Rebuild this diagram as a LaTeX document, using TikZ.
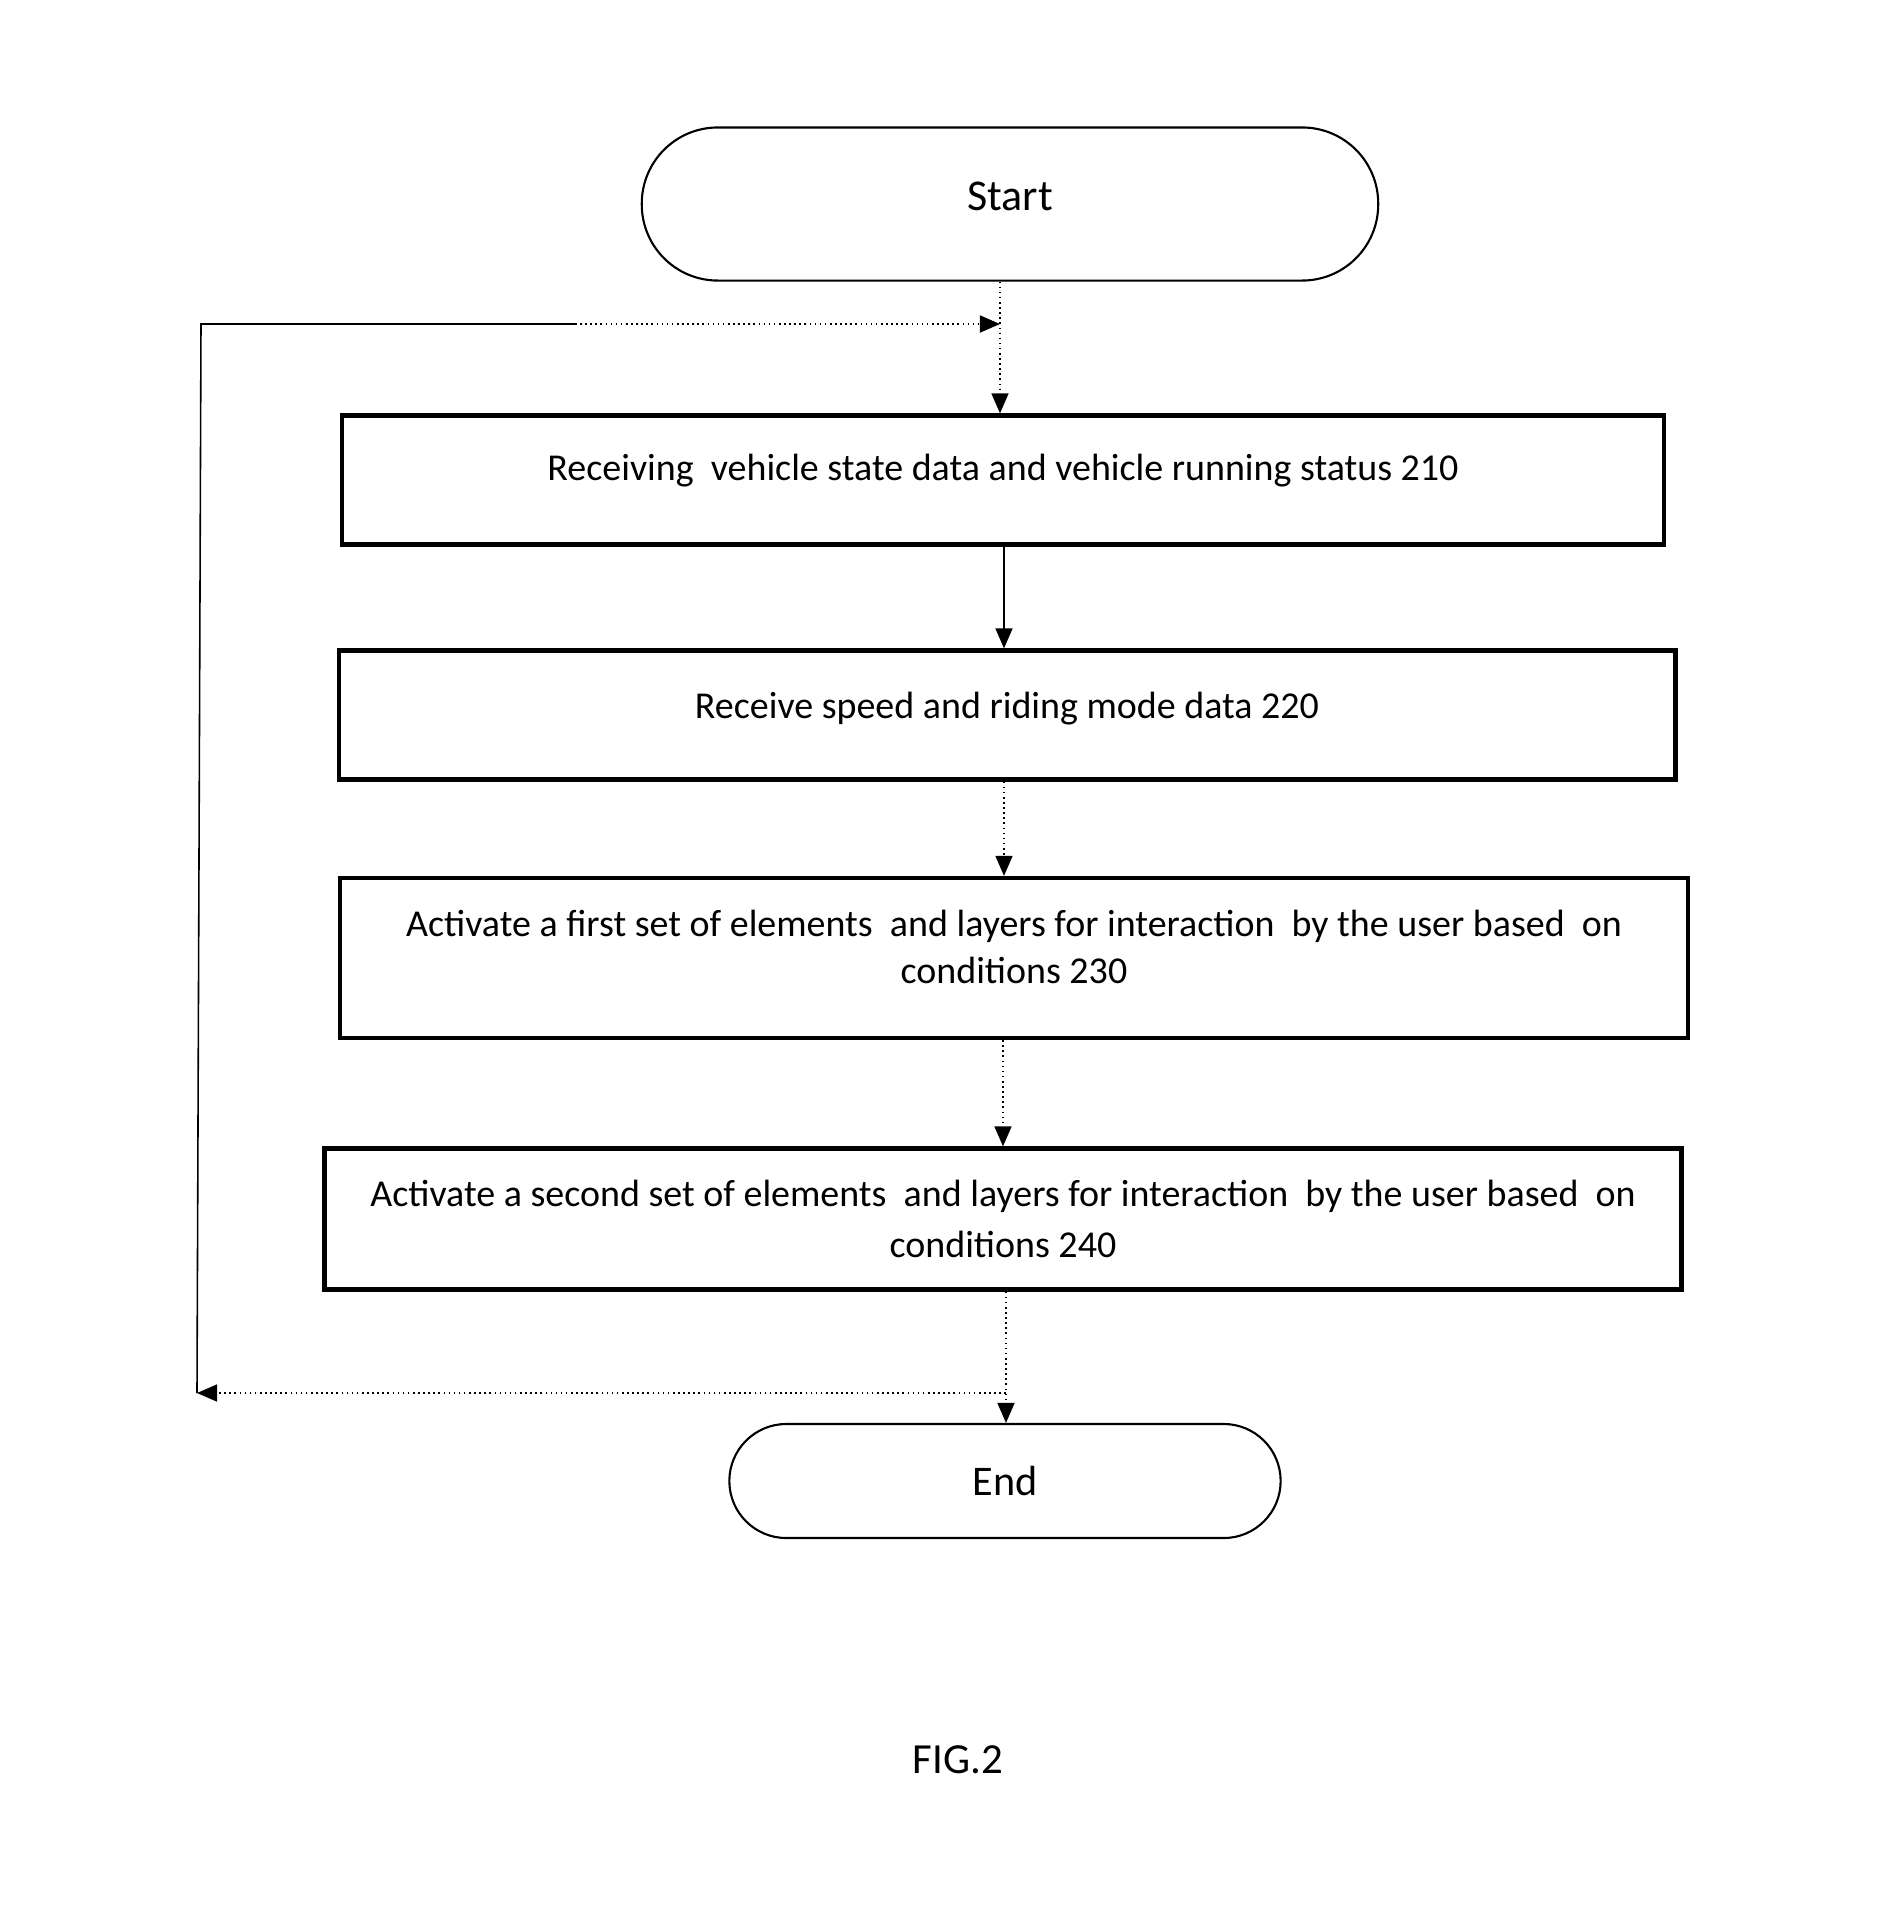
\documentclass[tikz,border=0pt]{standalone}
\usepackage{fontspec}
\setmainfont{Carlito}
\usetikzlibrary{arrows.meta}

\tikzset{
    stepbox/.style = {draw, line width = 1.2pt, align = center, font = \fontsize{10.8}{13.3}\selectfont},
    terminal/.style = {draw, line width = 0.6pt, font = \fontsize{12}{14}\selectfont},
    flow/.style = {line width = 0.45pt, -{Triangle[length = 0.2cm, width = 0.17cm]}},
    flowdot/.style = {flow, densely dotted},
}

\begin{document}
\begin{tikzpicture}[x = 0.01cm, y = -0.01cm]
                \useasboundingbox (0,0) rectangle (1897,1917);

                \node[terminal, rounded corners = 0.76cm, minimum width = 7.36cm, minimum height = 1.53cm, text depth = 0.15cm, font = \fontsize{12.5}{14}\selectfont] (start) at (1010,204) {Start};

                \node[stepbox, minimum width = 13.21cm, minimum height = 1.29cm, text depth = 0.25cm] (recv) at (1003,480) {Receiving\ \ vehicle state data and vehicle running status 210};
                \node[stepbox, minimum width = 13.36cm, minimum height = 1.29cm, text depth = 0.2cm] (speed) at (1007,715) {Receive speed and riding mode data 220};
                \node[stepbox, minimum width = 13.47cm, minimum height = 1.60cm, text depth = 0.23cm] (first) at (1014,958) {Activate a first set of elements\ \ and layers for interaction\ \ by the user based\ \ on\\ conditions 230};
                \node[stepbox, minimum width = 13.56cm, minimum height = 1.41cm, font = \fontsize{10.8}{14.5}\selectfont] (second) at (1003,1219) {Activate a second set of elements\ \ and layers for interaction\ \ by the user based\ \ on\\ conditions 240};

                \node[terminal, rounded corners = 0.57cm, minimum width = 5.51cm, minimum height = 1.14cm] (end) at (1005,1481) {End};

                \node[font = \fontsize{12.2}{14}\selectfont] (fig) at (958,1760) {FIG.2};

                % loop corners
                \coordinate (loopTL) at (201,324);
                \coordinate (loopMid) at (575,324);
                \coordinate (loopBL) at (197,1393);
                \coordinate (joinB) at (second.south |- loopBL);

                \draw[flowdot] (start.south -| 1000,0) -- (recv.north -| 1000,0);
                \draw[flow] (recv.south -| 1004,0) -- (speed.north -| 1004,0);
                \draw[flowdot] (speed.south -| 1004,0) -- (first.north -| 1004,0);
                \draw[flowdot] (first.south -| 1003,0) -- (second.north -| 1003,0);
                \draw[flowdot] (second.south -| 1006,0) -- (end.north -| 1006,0);

                \draw[flowdot] (joinB -| 1006,0) -- (loopBL);
                \draw[line width = 0.45pt] (loopBL) -- (loopTL) -- (loopMid);
                \draw[flowdot] (loopMid) -- (1000,324);
            \end{tikzpicture}
\end{document}
